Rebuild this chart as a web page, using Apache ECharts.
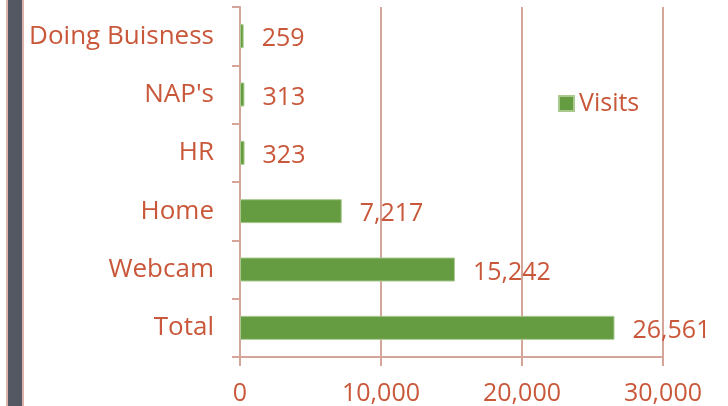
<!DOCTYPE html>
<html>
<head>
<meta charset="utf-8">
<script src="https://cdn.jsdelivr.net/npm/echarts@6/dist/echarts.min.js"></script>
<style>
html,body{margin:0;padding:0;background:#fff;}
#main{width:728px;height:406px;}
</style>
</head>
<body>
<div id="main"></div>
<script>
var categories = ['Total', 'Webcam', 'Home', 'HR', "NAP's", 'Doing Buisness'];
var visits = [26561, 15242, 7217, 323, 313, 259];
var xTicks = [0, 10000, 20000, 30000];

var txtColor = '#c9573a';
var lineColor = '#d6a59a';
var fontName = 'Open Sans';

var chart = echarts.init(document.getElementById('main'));
var option = {
	backgroundColor: '#fff',
	// dark strip on the left side
	graphic: [
		{type: 'rect', shape: {x: 6, y: 0, width: 2, height: 406}, style: {fill: '#dcb3ab'}},
		{type: 'rect', shape: {x: 8, y: 0, width: 14, height: 406}, style: {fill: '#535862'}},
		{type: 'rect', shape: {x: 22, y: 0, width: 2, height: 406}, style: {fill: '#dcb3ab'}}
	],
	legend: {
		left: 553,
		top: 86,
		itemWidth: 15,
		itemHeight: 15,
		itemGap: 6,
		icon: 'rect',
		data: ['Visits'],
		textStyle: {color: txtColor, fontSize: 25, fontFamily: fontName}
	},
	grid: {left: 240, right: 65, top: 7, bottom: 49},
	xAxis: {
		type: 'value',
		min: xTicks[0],
		max: xTicks[xTicks.length - 1],
		interval: 10000,
		axisLine: {show: true, lineStyle: {color: lineColor, width: 2}},
		axisTick: {show: true, length: 9, lineStyle: {color: lineColor, width: 2}},
		splitLine: {show: true, lineStyle: {color: lineColor, width: 2}},
		axisLabel: {
			color: txtColor, fontSize: 25, fontFamily: fontName, margin: 24,
			formatter: function (v) { return v.toLocaleString('en-US'); }
		}
	},
	yAxis: {
		type: 'category',
		data: categories,
		axisLine: {show: true, lineStyle: {color: lineColor, width: 2}},
		axisTick: {show: true, length: 8, lineStyle: {color: lineColor, width: 2}},
		axisLabel: {color: txtColor, fontSize: 26, fontFamily: fontName, margin: 26, padding: [6, 0, 0, 0]}
	},
	series: [{
		name: 'Visits',
		type: 'bar',
		data: visits,
		barWidth: 24,
		itemStyle: {color: '#659c41', borderColor: '#a9c98f', borderWidth: 1},
		label: {
			show: true,
			position: 'right',
			distance: 18,
			offset: [0, 3],
			color: txtColor,
			fontSize: 25,
			fontFamily: fontName,
			formatter: function (p) { return p.value.toLocaleString('en-US'); }
		}
	}]
};
chart.setOption(option);
</script>
</body>
</html>
